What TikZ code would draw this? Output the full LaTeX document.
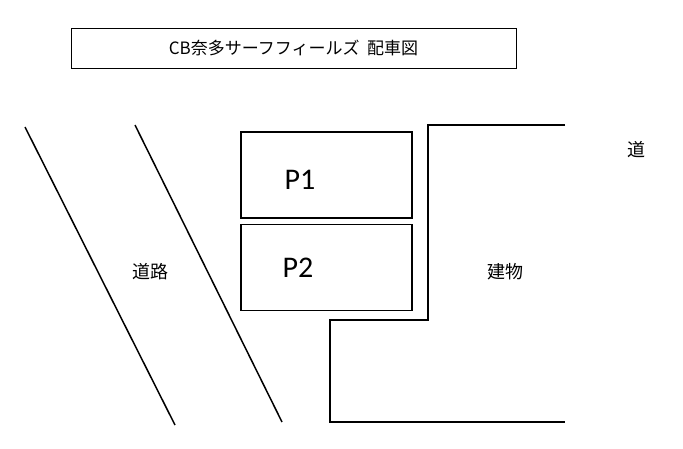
\documentclass[tikz,border=0pt]{standalone}
\usepackage{fontspec}
\setmainfont{Carlito}
\newfontfamily\cjk{Noto Sans CJK JP}
\begin{document}
\begin{tikzpicture}[x=1pt,y=-1pt]
		\useasboundingbox (0,0) rectangle (683,448);
		\tikzset{lot/.style={draw,line width=1.5pt,minimum width=171pt,minimum height=86pt,inner sep=0pt}}
		\node[draw,minimum width=445pt,minimum height=40pt] (Title) at (293.5,48) {\cjk\fontsize{17}{20}\selectfont CB奈多サーフフィールズ\ \ 配車図};
		\draw [line width=1.5pt] (25,127) -- (175,425);% road edges
		\draw [line width=1.5pt] (135,125) -- (282,422);
		\node[lot] (P1) at (326.5,175) {};
		\node[lot] (P2) at (326.5,267.5) {};
		\node (P1Text) at (300,180) {\fontsize{30}{34}\selectfont P1};
		\node (P2Text) at (298,268) {\fontsize{30}{34}\selectfont P2};
		\draw [line width=1.5pt] (565,125) -- (428,125) -- (428,320) -- (330,320) -- (330,422) -- (565,422);% building
		\node (Road) at (150,272) {\cjk\fontsize{18}{20}\selectfont 道路};
		\node (Building) at (505,272) {\cjk\fontsize{18}{20}\selectfont 建物};
		\node (RoadRight) at (636,150) {\cjk\fontsize{18}{20}\selectfont 道};
	  \end{tikzpicture}
\end{document}
